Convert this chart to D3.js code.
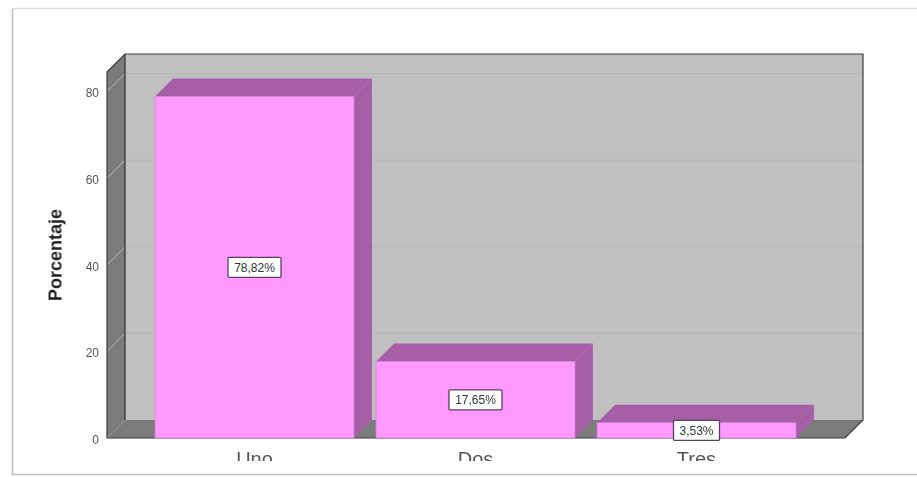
<!DOCTYPE html>
<html>
<head>
<meta charset="utf-8">
<script src="https://cdn.jsdelivr.net/npm/d3@7"></script>
<style>
  html, body { margin: 0; padding: 0; background: #fff; overflow: hidden; }
  svg { display: block; filter: blur(0.6px); }
  text { font-family: "Liberation Sans", Arial, sans-serif; }
</style>
</head>
<body>
<div id="wrapper"></div>
<script>
const categories = ["Uno", "Dos", "Tres"]
const values = [78.82, 17.65, 3.53]
const valueLabels = ["78,82%", "17,65%", "3,53%"]
const yTicks = [0, 20, 40, 60, 80]
const yTitle = "Porcentaje"

const width = 917
const height = 477
const depth = 18

const plot = { left: 107, right: 845, top: 72, bottom: 438 }

const svg = d3.select("#wrapper")
  .append("svg")
    .attr("width", width)
    .attr("height", height)

// page frame of the pasted picture
svg.append("path")
  .attr("d", "M917,8.5H12.5")
  .attr("fill", "none")
  .attr("stroke", "#dedede")
  .attr("stroke-width", 1.5)

svg.append("path")
  .attr("d", "M12.5,8.5V474.5H917")
  .attr("fill", "none")
  .attr("stroke", "#bcbcbc")
  .attr("stroke-width", 1.5)

const y = d3.scaleLinear()
  .domain([0, 80])
  .range([plot.bottom, 91.5])

const x = d3.scaleBand()
  .domain(categories)
  .range([144, 807])
  .paddingInner(0.1)
  .paddingOuter(0.05)

const poly = pts => pts.map(p => p.join(",")).join(" ")

// walls and floor
svg.append("polygon")
  .attr("points", poly([[plot.left + depth, plot.top - depth], [plot.right + depth, plot.top - depth], [plot.right + depth, plot.bottom - depth], [plot.left + depth, plot.bottom - depth]]))
  .attr("fill", "#c0c0c0")

svg.append("polygon")
  .attr("points", poly([[plot.left, plot.top], [plot.left + depth, plot.top - depth], [plot.left + depth, plot.bottom - depth], [plot.left, plot.bottom]]))
  .attr("fill", "#7b7b7b")

svg.append("polygon")
  .attr("points", poly([[plot.left, plot.bottom], [plot.left + depth, plot.bottom - depth], [plot.right + depth, plot.bottom - depth], [plot.right, plot.bottom]]))
  .attr("fill", "#7b7b7b")

// grid lines, on the side wall and the back wall
const grid = svg.append("g")
  .selectAll("g")
  .data(yTicks.filter(d => d > 0))
  .enter().append("g")

grid.append("line")
  .attr("x1", plot.left)
  .attr("x2", plot.left + depth)
  .attr("y1", d => y(d))
  .attr("y2", d => y(d) - depth)
  .attr("stroke", "#b8b8b8")

grid.append("line")
  .attr("x1", plot.left + depth)
  .attr("x2", plot.right + depth)
  .attr("y1", d => y(d) - depth)
  .attr("y2", d => y(d) - depth)
  .attr("stroke", "#b6b6b6")

// dark edges of the box
svg.append("path")
  .attr("d", `M${plot.left},${plot.top}L${plot.left + depth},${plot.top - depth}H${plot.right + depth}V${plot.bottom - depth}L${plot.right},${plot.bottom}H${plot.left}Z`)
  .attr("fill", "none")
  .attr("stroke", "#3c3c3c")
  .attr("stroke-width", 1.2)

svg.append("path")
  .attr("d", `M${plot.left + depth},${plot.top - depth}V${plot.bottom - depth}`)
  .attr("fill", "none")
  .attr("stroke", "#2e2e2e")
  .attr("stroke-width", 1.2)

// bars
const bars = svg.append("g")
  .selectAll("g")
  .data(categories.map((c, i) => ({ name: c, value: values[i], label: valueLabels[i] })))
  .enter().append("g")

bars.append("polygon")
  .attr("points", d => {
    const x0 = x(d.name), x1 = x0 + x.bandwidth(), t = y(d.value)
    return poly([[x0, t], [x0 + depth, t - depth], [x1 + depth, t - depth], [x1, t]])
  })
  .attr("fill", "#a65fa6")

bars.append("polygon")
  .attr("points", d => {
    const x1 = x(d.name) + x.bandwidth(), t = y(d.value)
    return poly([[x1, t], [x1 + depth, t - depth], [x1 + depth, y(0) - depth], [x1, y(0)]])
  })
  .attr("fill", "#a65fa6")

bars.append("rect")
  .attr("x", d => x(d.name))
  .attr("y", d => y(d.value))
  .attr("width", x.bandwidth())
  .attr("height", d => y(0) - y(d.value))
  .attr("fill", "#ff99ff")
  .attr("stroke", "#d484d4")
  .attr("stroke-width", 0.8)

const labels = bars.append("g")
  .attr("transform", d => `translate(${x(d.name) + x.bandwidth() / 2}, ${(y(d.value) + y(0)) / 2})`)

labels.append("rect")
  .attr("x", d => d.label.length > 5 ? -26.5 : -23)
  .attr("y", -10)
  .attr("width", d => d.label.length > 5 ? 53 : 46)
  .attr("height", 20)
  .attr("rx", 1)
  .attr("fill", "#fff")
  .attr("stroke", "#5a4060")
  .attr("stroke-width", 1.3)

labels.append("text")
  .attr("text-anchor", "middle")
  .attr("y", 4.5)
  .attr("font-size", 12)
  .attr("fill", "#2c3a30")
  .text(d => d.label)

// y axis
const yAxis = svg.append("g")
  .attr("transform", `translate(${plot.left}, 0)`)
  .call(d3.axisLeft(y).tickValues(yTicks).tickSize(0).tickPadding(8).tickFormat(d3.format("d")))

yAxis.select(".domain").remove()
yAxis.selectAll("text")
  .attr("dy", "0.45em")
  .attr("font-size", 12)
  .attr("font-family", "'Liberation Sans', Arial, sans-serif")
  .attr("fill", "#555")

svg.append("text")
  .attr("transform", "translate(61.5, 255) rotate(-90)")
  .attr("text-anchor", "middle")
  .attr("font-size", 18)
  .attr("font-weight", "bold")
  .attr("fill", "#222")
  .text(yTitle)

// the category labels are cut off at the bottom in the original
svg.append("clipPath")
  .attr("id", "cut")
  .append("rect")
    .attr("x", 0)
    .attr("y", 440)
    .attr("width", width)
    .attr("height", 21)

svg.append("g")
  .attr("clip-path", "url(#cut)")
  .selectAll("text")
  .data(categories)
  .enter().append("text")
    .attr("x", d => x(d) + x.bandwidth() / 2)
    .attr("y", 466)
    .attr("text-anchor", "middle")
    .attr("font-size", 20)
    .attr("fill", "#555")
    .text(d => d)
</script>
</body>
</html>
